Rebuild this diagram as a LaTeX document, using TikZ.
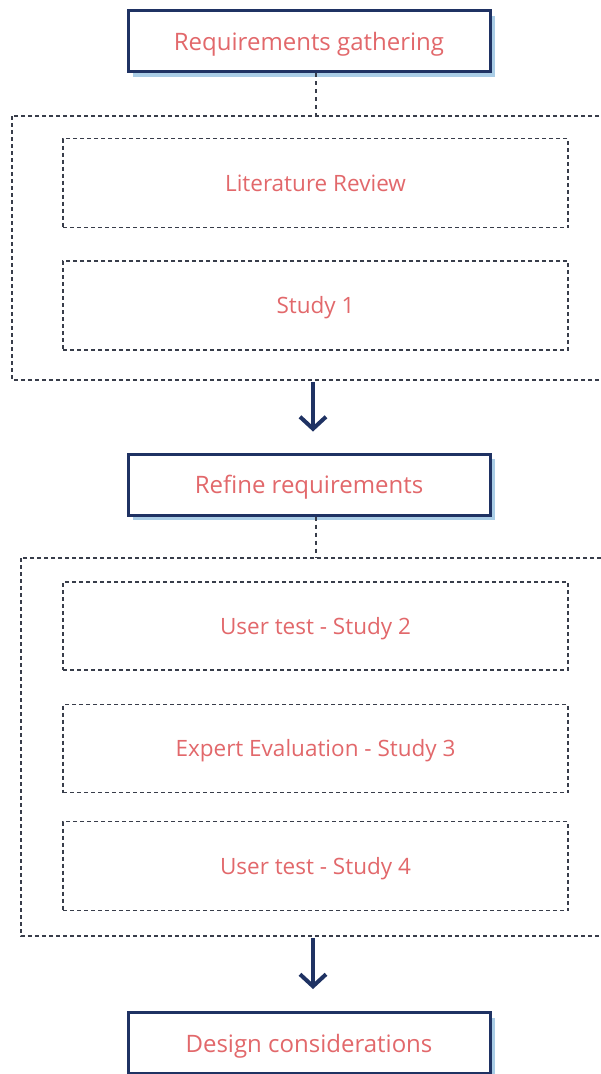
\documentclass[tikz,border=0pt]{standalone}
\usepackage{fontspec}
\setmainfont{Open Sans}
\usetikzlibrary{arrows.meta,shadows}
\definecolor{navy}{HTML}{1F3263}
\definecolor{salmon}{HTML}{E2686B}
\definecolor{shade}{HTML}{AACDE6}
\definecolor{dashgray}{HTML}{383D4A}

\tikzset{
  stage/.style={text=salmon, font=\fontsize{24}{28}\selectfont,
    text height=18pt, text depth=0pt,
    draw=navy, line width=3pt, fill=white,
    minimum width=362pt, minimum height=61pt, inner sep=0pt,
    general shadow={fill=shade, shadow xshift=5pt, shadow yshift=-5pt}},
  task/.style={text=salmon, font=\fontsize{22.5}{27}\selectfont,
    text height=16pt, text depth=0pt,
    draw=dashgray, line width=1.4pt, dash pattern=on 4pt off 3pt,
    minimum width=505pt, inner sep=0pt},
  group/.style={draw=dashgray, line width=1.4pt, dash pattern=on 4pt off 3pt},
  link/.style={draw=dashgray, line width=1.5pt, dash pattern=on 4pt off 4pt},
  flow/.style={draw=navy, line width=4pt, -{Straight Barb[length=12pt,width=26pt,line width=4pt]}},
}

\begin{document}
\begin{tikzpicture}[x=1pt,y=-1pt]
\useasboundingbox (0,0) rectangle (601,1074);
\clip (0,0) rectangle (601,1074);
\fill[white] (0,0) rectangle (601,1074);

% stages
\node[stage] (req) at (309,41) {Requirements gathering};
\node[stage] (refine) at (309,484.5) {Refine requirements};
\node[stage] (design) at (309,1043) {Design considerations};

% first group: background studies
\draw[group] (12,116) rectangle (640,380);
\coordinate (g1top) at (309,116);
\coordinate (g1bot) at (313,382);
\node[task, minimum height=89pt] (lit) at (315.5,183) {Literature Review};
\node[task, minimum height=89pt] (s1) at (315.5,305.5) {Study 1};

% second group: evaluation studies
\draw[group] (21,558) rectangle (640,936);
\coordinate (g2top) at (309,558);
\coordinate (g2bot) at (313,938);
\node[task, minimum height=88pt] (s2) at (315.5,626) {User test - Study 2};
\node[task, minimum height=88pt] (s3) at (315.5,748.5) {Expert Evaluation - Study 3};
\node[task, minimum height=89pt] (s4) at (315.5,866) {User test - Study 4};

% connectors
\draw[link] (req.south) ++(7,0) -- ([xshift=7pt]g1top);
\draw[link] (refine.south) ++(7,0) -- ([xshift=7pt]g2top);
\draw[flow] (g1bot) -- ([yshift=21pt]g1bot |- refine.north);
\draw[flow] (g2bot) -- ([yshift=22pt]g2bot |- design.north);
\end{tikzpicture}
\end{document}
